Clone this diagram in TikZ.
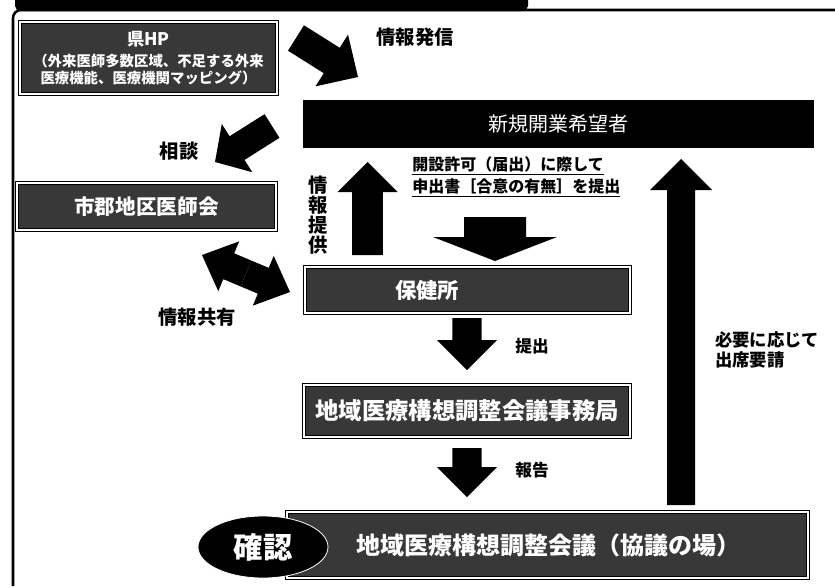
\documentclass[tikz,border=0pt]{standalone}
\usepackage{fontspec}
\newfontfamily\jp{Noto Sans CJK JP}
\usetikzlibrary{calc,shapes.geometric}
\tikzset{
  graybox/.style={draw=black, double=white, double distance=0.9pt, line width=0.9pt,
    fill=black!78, text=white, inner sep=0pt},
  blackbox/.style={draw=black, fill=black, text=white, inner sep=0pt},
  boxtext/.style={text=white, inner sep=0pt, font=\jp\bfseries\fontsize{#1}{#1}\selectfont},
  lbl/.style={text=black, inner sep=0pt, font=\jp\bfseries\fontsize{#1}{#1}\selectfont},
  frameline/.style={draw=black, line width=1.9pt, rounded corners=6pt},
}
% block arrow from tail coordinate #1 to tip coordinate #2
% #3 shaft half width, #4 head half width, #5 head length
\newcommand\blockarrow[5]{%
  \fill[black] let \p1=(#1), \p2=(#2),
    \n1={atan2(\y2-\y1,\x2-\x1)}, \n2={veclen(\x2-\x1,\y2-\y1)} in
    ($(#1)+(\n1+90:#3)$) --
    ($(#1)+(\n1:\n2-#5)+(\n1+90:#3)$) --
    ($(#1)+(\n1:\n2-#5)+(\n1+90:#4)$) --
    (#2) --
    ($(#1)+(\n1:\n2-#5)+(\n1-90:#4)$) --
    ($(#1)+(\n1:\n2-#5)+(\n1-90:#3)$) --
    ($(#1)+(\n1-90:#3)$) -- cycle;}
\begin{document}
\begin{tikzpicture}[x=0.75pt,y=-0.75pt]
\useasboundingbox (0,0) rectangle (835,586);
\begin{scope}
\clip (0,0) rectangle (835,586);
% outer frame and title tab
\coordinate (fb) at (13,586);
\coordinate (fc) at (13,10);
\coordinate (fr) at (835,10);
\draw[frameline] (fb) -- (fc) -- (fr);
\fill[black, rounded corners=4pt] (15,-12) rectangle (528,11);
\end{scope}

% boxes
\node[graybox, minimum width=192.75pt, minimum height=54pt, align=center,
  font=\jp\bfseries\fontsize{10.8}{12.5}\selectfont] (ken) at (148.5,58)
  {{\fontsize{13}{13}\selectfont 県HP}\\[3pt]（外来医師多数区域、不足する外来\\医療機能、医療機関マッピング）};
\node[blackbox, minimum width=382.5pt, minimum height=35.25pt,
  font=\jp\fontsize{15}{15}\selectfont] (shinki) at (558,123.5) {新規開業希望者};
\node[graybox, minimum width=194.25pt, minimum height=35.25pt,
  font=\jp\bfseries\fontsize{15.5}{15.5}\selectfont] (ishikai) at (146.5,206.5) {市郡地区医師会};
\node[graybox, minimum width=243.75pt, minimum height=34.5pt] (hoken) at (467.5,290) {};
\node[boxtext=16] (hokentxt) at (427,290) {保健所};
\node[graybox, minimum width=244.5pt, minimum height=39pt,
  font=\jp\bfseries\fontsize{17.5}{17.5}\selectfont] (jimu) at (467,411) {地域医療構想調整会議事務局};
\node[graybox, minimum width=390.75pt, minimum height=49.5pt,
  font=\jp\bfseries\fontsize{18}{18}\selectfont] (kaigi) at (547.5,545) {\hspace*{2pt}地域医療構想調整会議（協議の場）};
\node[ellipse, fill=black, draw=white, line width=0.6pt, minimum width=97.5pt, minimum height=46.5pt,
  inner sep=0pt, text=white, font=\jp\bfseries\fontsize{22}{22}\selectfont] (kakunin) at (263,547) {確認};

% arrow end points
\coordinate (a1s) at (296,38);   \coordinate (a1e) at (358,77);
\coordinate (a2s) at (272,126);  \coordinate (a2e) at (215,162);
\coordinate (a3m) at (246,273.5);\coordinate (a3l) at (202,255); \coordinate (a3r) at (290,292);
\coordinate (a4s) at (367.5,255);\coordinate (a4e) at (367.5,162);
\coordinate (a5s) at (495,217);  \coordinate (a5e) at (495,261);
\coordinate (a6s) at (467,318);  \coordinate (a6e) at (467,370);
\coordinate (a7s) at (467,448);  \coordinate (a7e) at (467,497);
\coordinate (a8s) at (681,505);  \coordinate (a8e) at (681,159);

\blockarrow{a1s}{a1e}{11.25pt}{22.9pt}{23.25pt}
\blockarrow{a2s}{a2e}{10.5pt}{21.4pt}{19.5pt}
\blockarrow{a3m}{a3l}{10.5pt}{20.25pt}{21.75pt}
\blockarrow{a3m}{a3r}{10.5pt}{20.25pt}{21.75pt}
\blockarrow{a4s}{a4e}{11.6pt}{22.5pt}{22.5pt}
\blockarrow{a5s}{a5e}{23.25pt}{46.5pt}{18pt}
\blockarrow{a6s}{a6e}{10.9pt}{22.5pt}{22.5pt}
\blockarrow{a7s}{a7e}{10.9pt}{22.5pt}{22.5pt}
\blockarrow{a8s}{a8e}{10.5pt}{23.25pt}{23.25pt}

% labels
\node[lbl=14.5] (l1) at (415,37) {情報発信};
\node[lbl=14.5] (l2) at (179,151) {相談};
\node[lbl=14.5, align=center, font=\jp\bfseries\fontsize{14.5}{15}\selectfont] (l3) at (318,215) {情\\報\\提\\供};
\node[lbl=14.5] (l4) at (197,317) {情報共有};
\node[lbl=12, anchor=west] (l5) at (412,166) {\underline{開設許可（届出）に際して}};
\node[lbl=12, anchor=west] (l6) at (412,188) {\underline{申出書［合意の有無］を提出}};
\node[lbl=12.5] (l7) at (532,346) {提出};
\node[lbl=12.5] (l8) at (532,470) {報告};
\node[lbl=13, anchor=west] (l9) at (715,340) {必要に応じて};
\node[lbl=13, anchor=west] (l10) at (715,360) {出席要請};
\end{tikzpicture}
\end{document}
